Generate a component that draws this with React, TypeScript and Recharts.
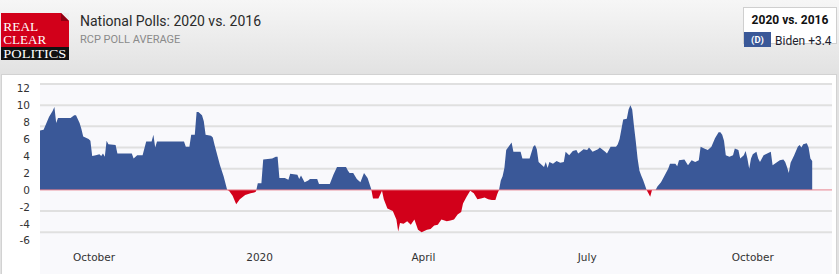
import React from 'react';
import { AreaChart, Area, XAxis, YAxis, CartesianGrid, ReferenceLine } from 'recharts';

// RCP average: Biden lead minus Clinton lead at the same point (2020 vs. 2016)
const dates: string[] = [
  '2019-09-01','2019-09-03','2019-09-05','2019-09-06','2019-09-08','2019-09-09','2019-09-10','2019-09-11','2019-09-18','2019-09-20',
  '2019-09-21','2019-09-23','2019-09-24','2019-09-25','2019-09-28','2019-09-29','2019-09-30','2019-10-02','2019-10-04','2019-10-05',
  '2019-10-06','2019-10-07','2019-10-08','2019-10-09','2019-10-13','2019-10-14','2019-10-22','2019-10-23','2019-10-25','2019-10-28',
  '2019-10-30','2019-11-02','2019-11-03','2019-11-04','2019-11-05','2019-11-20','2019-11-21','2019-11-23','2019-11-24','2019-11-26',
  '2019-11-27','2019-11-28','2019-11-30','2019-12-01','2019-12-02','2019-12-05','2019-12-06','2019-12-07','2019-12-10','2019-12-12',
  '2019-12-14','2019-12-15','2019-12-17','2019-12-19','2019-12-20','2019-12-21','2019-12-24','2019-12-27','2019-12-29','2019-12-30',
  '2019-12-31','2020-01-02','2020-01-03','2020-01-08','2020-01-10','2020-01-11','2020-01-12','2020-01-15','2020-01-17','2020-01-18',
  '2020-01-22','2020-01-23','2020-01-24','2020-01-26','2020-01-28','2020-01-29','2020-02-02','2020-02-03','2020-02-09','2020-02-11',
  '2020-02-13','2020-02-18','2020-02-19','2020-02-20','2020-02-22','2020-02-24','2020-02-26','2020-02-28','2020-03-01','2020-03-03',
  '2020-03-04','2020-03-07','2020-03-09','2020-03-10','2020-03-12','2020-03-15','2020-03-17','2020-03-18','2020-03-19','2020-03-21',
  '2020-03-23','2020-03-25','2020-03-27','2020-03-29','2020-03-31','2020-04-03','2020-04-05','2020-04-07','2020-04-09','2020-04-11',
  '2020-04-14','2020-04-16','2020-04-18','2020-04-20','2020-04-22','2020-04-23','2020-04-25','2020-04-27','2020-04-29','2020-05-01',
  '2020-05-03','2020-05-05','2020-05-07','2020-05-09','2020-05-11','2020-05-12','2020-05-13','2020-05-14','2020-05-15','2020-05-16',
  '2020-05-17','2020-05-18','2020-05-20','2020-05-21','2020-05-25','2020-05-26','2020-05-30','2020-06-01','2020-06-02','2020-06-03',
  '2020-06-04','2020-06-07','2020-06-08','2020-06-09','2020-06-10','2020-06-12','2020-06-14','2020-06-16','2020-06-18','2020-06-19',
  '2020-06-21','2020-06-23','2020-06-25','2020-06-26','2020-06-29','2020-07-01','2020-07-02','2020-07-04','2020-07-07','2020-07-08',
  '2020-07-11','2020-07-12','2020-07-14','2020-07-17','2020-07-18','2020-07-19','2020-07-21','2020-07-23','2020-07-24','2020-07-25',
  '2020-07-26','2020-07-27','2020-07-28','2020-07-29','2020-07-30','2020-07-31','2020-08-01','2020-08-02','2020-08-03','2020-08-04',
  '2020-08-05','2020-08-06','2020-08-08','2020-08-09','2020-08-11','2020-08-13','2020-08-15','2020-08-16','2020-08-19','2020-08-20',
  '2020-08-21','2020-08-24','2020-08-26','2020-08-28','2020-08-30','2020-09-01','2020-09-02','2020-09-04','2020-09-06','2020-09-08',
  '2020-09-10','2020-09-12','2020-09-13','2020-09-14','2020-09-15','2020-09-16','2020-09-18','2020-09-20','2020-09-21','2020-09-23',
  '2020-09-24','2020-09-26','2020-09-27','2020-09-28','2020-09-29','2020-09-30','2020-10-01','2020-10-03','2020-10-04','2020-10-05',
  '2020-10-07','2020-10-09','2020-10-11','2020-10-12','2020-10-14','2020-10-16','2020-10-18','2020-10-19','2020-10-20','2020-10-21',
  '2020-10-22','2020-10-24','2020-10-26','2020-10-27','2020-10-28','2020-10-29','2020-10-31','2020-11-01','2020-11-02','2020-11-03',
];

const spread: number[] = [
  7.0, 7.1, 8.1, 8.6, 9.3, 9.8, 7.9, 8.5, 8.5, 8.8,
  8.8, 7.9, 7.2, 6.3, 6.0, 5.8, 4.0, 4.1, 4.2, 4.0,
  4.3, 3.9, 5.8, 5.4, 5.3, 4.3, 4.3, 3.7, 4.1, 4.1,
  5.7, 5.7, 6.5, 5.0, 5.7, 5.7, 5.1, 5.1, 6.5, 6.5,
  9.2, 9.2, 8.8, 8.1, 6.5, 6.4, 6.2, 5.3, 2.9, 1.6,
  0.0, -0.1, -0.7, -1.7, -1.4, -1.1, -0.6, -0.4, -0.3, -0.2,
  0.8, 0.8, 3.6, 3.7, 3.9, 3.9, 1.4, 1.4, 1.2, 1.9,
  1.8, 1.3, 1.7, 0.9, 1.1, 1.3, 1.3, 0.7, 0.7, 1.8,
  2.7, 2.7, 2.3, 2.0, 2.0, 1.3, 0.9, 2.0, 1.4, 0.1,
  -1.0, -1.0, -0.1, -1.1, -2.2, -2.5, -3.5, -4.9, -3.9, -4.0,
  -3.7, -4.1, -3.5, -4.7, -5.0, -4.7, -4.6, -4.2, -4.1, -3.5,
  -3.7, -3.6, -3.5, -2.9, -2.6, -1.6, -0.8, -0.1, -0.4, -1.1,
  -1.0, -0.9, -1.1, -1.2, -1.2, -0.5, 0.0, 1.1, 1.6, 2.6,
  4.7, 5.0, 5.6, 4.5, 4.5, 3.7, 3.7, 5.1, 5.3, 4.8,
  3.3, 2.7, 3.3, 2.6, 3.3, 3.1, 3.4, 3.2, 3.3, 4.5,
  4.1, 4.6, 4.7, 4.3, 4.8, 4.7, 5.0, 4.5, 4.8, 5.0,
  4.5, 4.3, 5.1, 5.1, 5.4, 6.0, 8.3, 8.4, 9.5, 10.0,
  9.5, 7.5, 5.7, 3.7, 2.3, 1.7, 1.2, 0.6, 0.0, -0.4,
  -0.8, 0.0, 0.0, 0.4, 0.9, 1.7, 2.5, 3.1, 3.1, 2.8,
  3.5, 3.6, 2.9, 3.5, 3.3, 3.5, 5.1, 4.9, 4.7, 5.1,
  6.1, 6.8, 6.8, 6.5, 5.8, 4.1, 3.9, 4.1, 4.9, 4.7,
  3.7, 4.1, 4.6, 3.7, 2.5, 3.7, 4.2, 4.5, 3.7, 3.3,
  4.1, 4.3, 4.5, 2.9, 3.2, 3.5, 3.6, 3.3, 2.7, 2.0,
  3.2, 4.1, 5.1, 5.3, 5.0, 5.4, 5.5, 5.0, 3.7, 3.4,
];

const tickDates: string[] = ['2019-10-01', '2020-01-01', '2020-04-01', '2020-07-01', '2020-10-01'];
const tickLabels: string[] = ['October', '2020', 'April', 'July', 'October'];
const yTicks: number[] = [-6, -4, -2, 0, 2, 4, 6, 8, 10, 12];
const gridValues: number[] = [-5, -2.5, 2.5, 5, 7.5, 10, 12.5];
const xRange: string[] = ['2019-09-01', '2020-11-14'];
const yRange: number[] = [-6.5, 12.5];

const BLUE = '#3a5898';
const RED = '#d2001a';

const toTime = (s: string) => Date.parse(s + 'T00:00:00Z');
const data = dates.map((d, i) => ({ t: toTime(d), v: spread[i] }));
const tickTimes = tickDates.map(toTime);
const maxV = Math.max(...spread);
const minV = Math.min(...spread);
const splitOffset = maxV / (maxV - minV);

const axisFont = { fontSize: 10.5, fill: '#333', fontFamily: '"DejaVu Sans", Verdana, sans-serif' };
const logoFont = '"Liberation Serif", "DejaVu Serif", serif';

export default function App() {
  return (
    <div
      style={{
        position: 'absolute',
        left: 0,
        top: 0,
        width: 839,
        height: 274,
        overflow: 'hidden',
        background: 'linear-gradient(#f6f6f6, #e2e2e2 74px)',
        fontFamily: 'Roboto, "Open Sans", sans-serif',
      }}
    >
      {/* logo */}
      <svg width={69} height={47} style={{ position: 'absolute', left: 1, top: 13 }}>
        <rect x={0} y={0} width={68} height={34} fill={RED} />
        <polygon points="60,0 68,0 68,8" fill="#ececec" />
        <polygon points="60,0 60,8 68,8" fill="#8e0012" />
        <rect x={0} y={34} width={68} height={13} fill="#111" />
        <text x={2.3} y={17.5} fontFamily={logoFont} fontSize={12} fill="#fff" textLength={35} lengthAdjust="spacingAndGlyphs">REAL</text>
        <text x={2.3} y={31} fontFamily={logoFont} fontSize={12} fill="#fff" textLength={43} lengthAdjust="spacingAndGlyphs">CLEAR</text>
        <text x={2.3} y={44.5} fontFamily={logoFont} fontSize={12} fill="#fff" textLength={63} lengthAdjust="spacingAndGlyphs">POLITICS</text>
      </svg>

      {/* title */}
      <div style={{ position: 'absolute', left: 80, top: 14, fontSize: 14, lineHeight: '14px', color: '#2a2a2a', whiteSpace: 'nowrap' }}>
        National Polls: 2020 vs. 2016
      </div>
      <div style={{ position: 'absolute', left: 80, top: 34, fontSize: 11, lineHeight: '11px', color: '#8a8a8a', whiteSpace: 'nowrap' }}>
        RCP POLL AVERAGE
      </div>

      {/* legend box */}
      <div
        style={{
          position: 'absolute',
          left: 743,
          top: 7,
          width: 94,
          height: 37,
          boxSizing: 'border-box',
          background: '#fff',
          border: '1px solid #cfcfcf',
        }}
      />
      <div style={{ position: 'absolute', left: 743, top: 14, width: 94, textAlign: 'center', fontSize: 12, lineHeight: '12px', fontWeight: 700, color: '#111', whiteSpace: 'nowrap' }}>
        2020 vs. 2016
      </div>
      <div
        style={{
          position: 'absolute',
          left: 744,
          top: 32,
          width: 27,
          height: 15,
          background: BLUE,
          color: '#fff',
          fontSize: 9.5,
          fontWeight: 700,
          lineHeight: '15px',
          textAlign: 'center',
        }}
      >
        (D)
      </div>
      <div style={{ position: 'absolute', left: 775, top: 35, fontSize: 12, lineHeight: '12px', color: '#1e1e2e', whiteSpace: 'nowrap' }}>
        Biden +3.4
      </div>

      {/* chart panel */}
      <div
        style={{
          position: 'absolute',
          left: 1,
          top: 74,
          width: 836,
          height: 220,
          boxSizing: 'border-box',
          background: '#fff',
          border: '1px solid #d2d2d2',
        }}
      />
      <div style={{ position: 'absolute', left: 40, top: 83, width: 792, height: 200, background: '#f9f9fc' }} />

      <AreaChart
        width={839}
        height={274}
        data={data}
        margin={{ top: 84, right: 7, bottom: 0, left: 0 }}
        style={{ position: 'absolute', left: 0, top: 0 }}
      >
        <defs>
          <linearGradient id="splitFill" x1="0" y1="0" x2="0" y2="1">
            <stop offset={splitOffset} stopColor={BLUE} stopOpacity={1} />
            <stop offset={splitOffset} stopColor={RED} stopOpacity={1} />
          </linearGradient>
        </defs>
        <CartesianGrid
          vertical={false}
          horizontalValues={gridValues}
          stroke="#e0e0e0"
          strokeWidth={2}
        />
        <XAxis
          type="number"
          dataKey="t"
          domain={[toTime(xRange[0]), toTime(xRange[1])]}
          ticks={tickTimes}
          interval={0}
          tickFormatter={(v: number) => tickLabels[tickTimes.indexOf(v)]}
          axisLine={false}
          tickLine={false}
          tickSize={0}
          tickMargin={9}
          height={29}
          tick={axisFont}
          allowDataOverflow
        />
        <YAxis
          type="number"
          domain={yRange}
          ticks={yTicks}
          interval={0}
          axisLine={false}
          tickLine={false}
          tickSize={0}
          tickMargin={10}
          width={40}
          tick={axisFont}
          allowDataOverflow
        />
        <Area
          type="linear"
          dataKey="v"
          baseValue={0}
          stroke="none"
          fill="url(#splitFill)"
          fillOpacity={1}
          dot={false}
          activeDot={false}
          isAnimationActive={false}
        />
        <ReferenceLine y={0} stroke="#e8828e" strokeWidth={1} />
      </AreaChart>
    </div>
  );
}
